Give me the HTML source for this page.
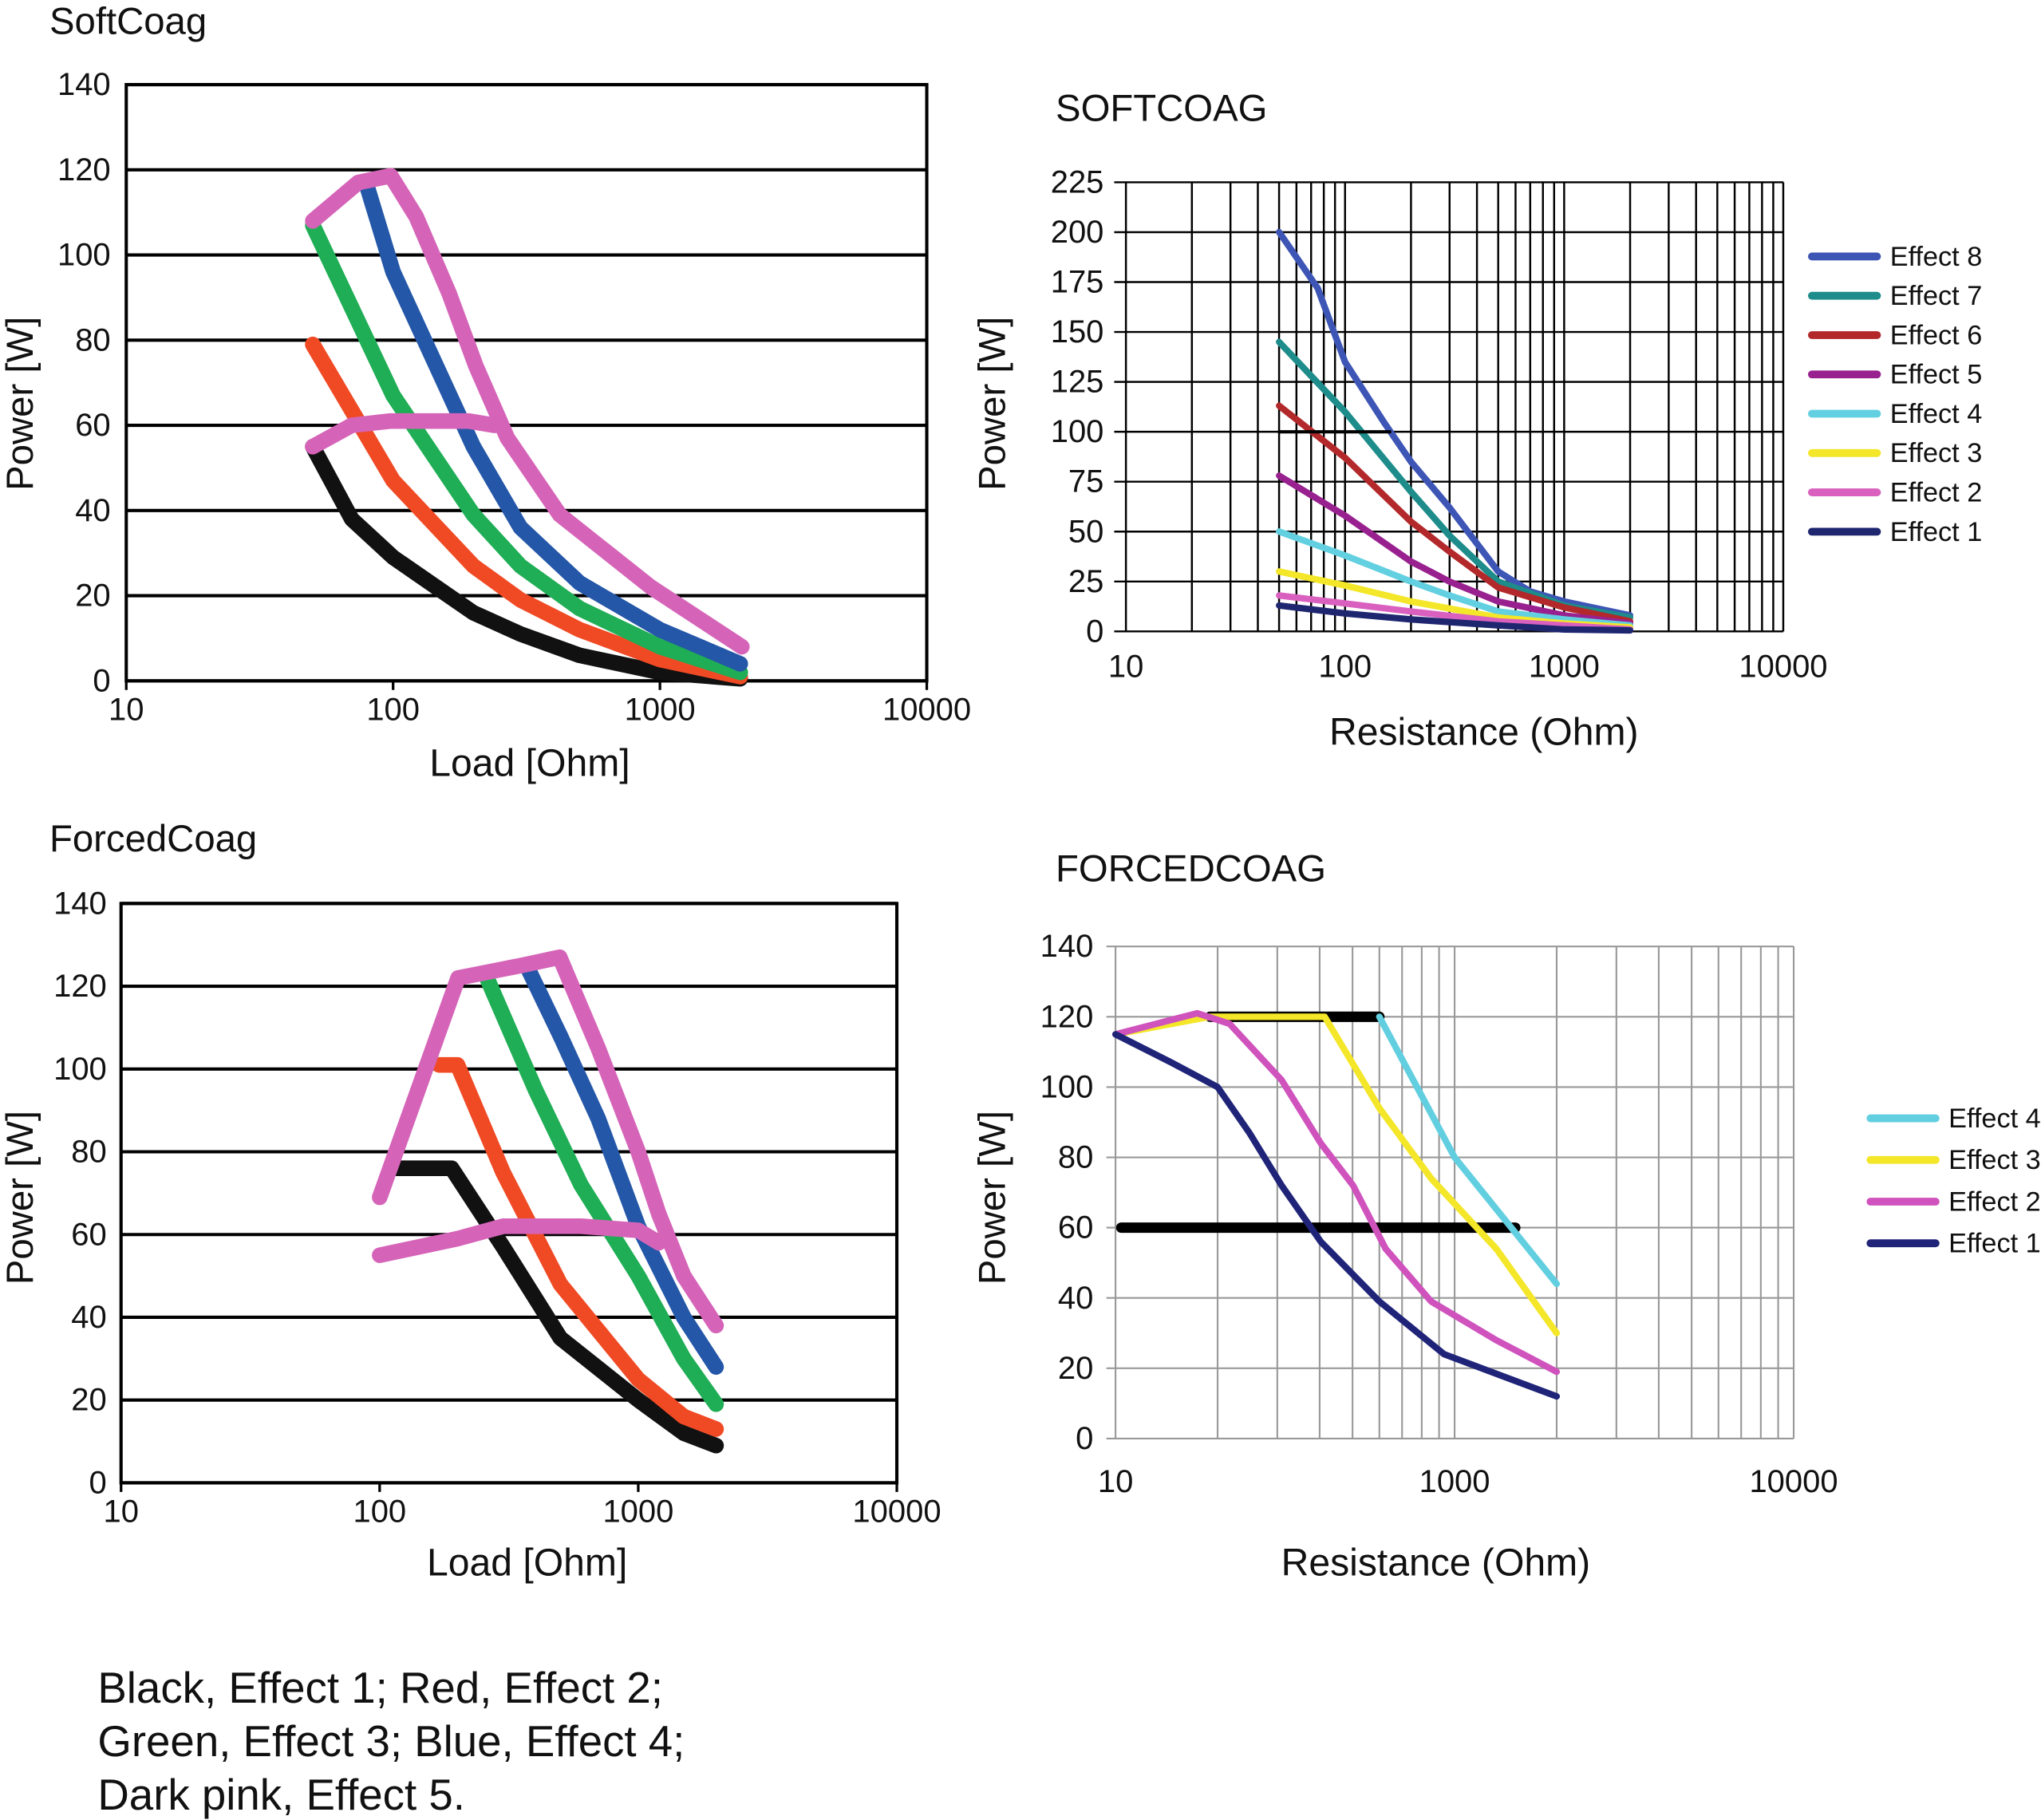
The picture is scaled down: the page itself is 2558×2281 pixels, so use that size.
<!DOCTYPE html>
<html><head><meta charset="utf-8"><style>html,body{margin:0;padding:0;background:#fff}svg{display:block}text{font-family:"Liberation Sans",sans-serif;fill:#111}</style></head>
<body>
<svg id="s" width="2558" height="2281" viewBox="0 0 1568 1398" preserveAspectRatio="none" xmlns="http://www.w3.org/2000/svg">
<rect width="1568" height="1398" fill="#fff"/>
<text x="38" y="26" font-size="29">SoftCoag</text>
<text x="811" y="93" font-size="29">SOFTCOAG</text>
<text x="38" y="654" font-size="29">ForcedCoag</text>
<text x="811" y="677" font-size="29">FORCEDCOAG</text>
<text x="75" y="1308" font-size="33.5">Black, Effect 1; Red, Effect 2;</text>
<text x="75" y="1349" font-size="33.5">Green, Effect 3; Blue, Effect 4;</text>
<text x="75" y="1390" font-size="33.5">Dark pink, Effect 5.</text>
</svg>
<script>
// ---- Chart 1 data (SoftCoag) ----
const c1Black=[[50,55],[70,38],[100,29],[200,16],[300,11],[500,6],[1000,2],[2000,0.5]];
const c1Red=[[50,79],[100,47],[200,27],[300,19],[500,12],[1000,5],[2000,1]];
const c1Green=[[50,107],[100,67],[200,39],[300,27],[500,17],[1000,8],[2000,2]];
const c1Blue=[[80,116],[100,96],[200,55],[300,36],[500,23],[1000,12],[2000,4]];
const c1Pink=[[50,108],[74,117],[98,118.6],[122,109],[162,91],[204,74],[268,57],[421,39],[925,22],[2028,8]];
const c1PinkLow=[[50,55],[70,60],[98,61],[192,61],[240,60]];
// ---- Chart 2 data (SOFTCOAG) ----
const c2E8=[[50,200],[75,172],[100,135],[150,105],[200,85],[300,62],[500,30],[700,20],[1000,15],[2000,8]];
const c2E7=[[50,145],[100,110],[200,70],[300,48],[500,25],[1000,13],[2000,7]];
const c2E6=[[50,113],[100,87],[200,55],[300,40],[500,22],[1000,12],[2000,5]];
const c2E5=[[50,78],[100,58],[200,35],[300,25],[500,15],[1000,8],[2000,4]];
const c2E4=[[50,50],[100,38],[200,25],[300,18],[500,10],[1000,6],[2000,3]];
const c2E3=[[50,30],[100,23],[200,15],[500,7],[1000,4],[2000,2]];
const c2E2=[[50,18],[100,14],[200,10],[500,5],[1000,3],[2000,1]];
const c2E1=[[50,13],[100,9],[200,6],[500,3],[1000,1],[2000,0.5]];
const c2Ref=[[50,100],[160,100]];
// ---- Chart 3 data (ForcedCoag) ----
const c3Black=[[115,76],[190,76],[300,57],[500,35],[1000,20],[1500,12],[2000,9]];
const c3Red=[[170,101],[200,101],[300,75],[500,48],[1000,25],[1500,16],[2000,13]];
const c3Green=[[260,122],[400,95],[600,72],[1000,50],[1500,30],[2000,19]];
const c3Blue=[[370,125],[500,108],[700,88],[1000,62],[1500,40],[2000,28]];
const c3Pink=[[100,69],[201,122],[351,125],[497,127],[700,105],[1000,80],[1200,65],[1500,50],[2000,38]];
const c3PinkLow=[[100,55],[200,59],[300,62],[600,62],[1000,61],[1200,58]];
// ---- Chart 4 data (FORCEDCOAG) ----
const c4E4=[[600,120],[1000,80],[2000,44]];
const c4E3=[[100,115],[190,120],[414,120],[600,94],[853,74],[1327,54],[2000,30]];
const c4E2=[[100,115],[174,121],[217,118],[309,102],[403,84],[502,72],[626,54],[853,39],[1327,28],[2000,19]];
const c4E1=[[100,115],[146,107],[200,100],[248,87],[309,72],[403,56],[600,39],[931,24],[2000,12]];
const c4RefHigh=[[190,120],[600,120]];
const c4RefLow=[[104,60],[1510,60]];
// ---- tick labels ----
const c1XTicks=[10,100,1000,10000];
const c1YTicks=[0,20,40,60,80,100,120,140];
const c2XTicks=[10,100,1000,10000];
const c2YTicks=[0,25,50,75,100,125,150,175,200,225];
const c4XTickVals=[100,1000,10000];
const c4XTickLabels=["10","1000","10000"];
const c4YTicks=[0,20,40,60,80,100,120,140];
const c2Legend=["Effect 8","Effect 7","Effect 6","Effect 5","Effect 4","Effect 3","Effect 2","Effect 1"];
const c4Legend=["Effect 4","Effect 3","Effect 2","Effect 1"];

const S=document.getElementById('s');const NS='http://www.w3.org/2000/svg';
const TF=24.5;
function mk(t,a,p){const e=document.createElementNS(NS,t);for(const k in a)e.setAttribute(k,a[k]);(p||S).appendChild(e);return e;}
function txt(x,y,s,size,anchor,p){const e=mk('text',{x:x,y:y,'font-size':size,'text-anchor':anchor||'start'},p);e.textContent=s;return e;}
function axes(x0,x1,d0,d1,yb,yt,ymax){
  return {x:v=>x0+(Math.log10(v)-d0)/(d1-d0)*(x1-x0),y:v=>yb-v/ymax*(yb-yt)};
}
function line(ax,data,col,w,name){
  const p=mk('polyline',{points:data.map(d=>ax.x(d[0]).toFixed(1)+','+ax.y(d[1]).toFixed(1)).join(' '),fill:'none',stroke:col,'stroke-width':w,'stroke-linejoin':'round','stroke-linecap':'round'});
  
  
}
function ytitle(x,y){const t=txt(x,y,'Power [W]',29,'middle');t.setAttribute('transform','rotate(-90 '+x+' '+y+')');}
function xtitle(x,y,s){const t=txt(x,y,s,29.5,'middle');}

// Chart 1
const A1=axes(97,712,1,4,523,65,140);
c1YTicks.forEach(v=>{mk('line',{x1:97,x2:712,y1:A1.y(v),y2:A1.y(v),stroke:'#000','stroke-width':2.5});txt(85,A1.y(v)+8,String(v),TF,'end');});
mk('rect',{x:97,y:65,width:615,height:458,fill:'none',stroke:'#000','stroke-width':2.5});
c1XTicks.forEach(v=>{mk('line',{x1:A1.x(v),x2:A1.x(v),y1:523,y2:530,stroke:'#000','stroke-width':2});txt(A1.x(v),553,String(v),TF,'middle');});
line(A1,c1Black,'#111',12,'series-effect-1');line(A1,c1Red,'#f04a25',12,'series-effect-2');line(A1,c1Green,'#1fae55',12,'series-effect-3');line(A1,c1Blue,'#2457a8',12,'series-effect-4');line(A1,c1PinkLow,'#d564b8',12,'series-effect-5-low');line(A1,c1Pink,'#d564b8',12,'series-effect-5');
ytitle(25,310);xtitle(407,596,'Load [Ohm]');

// Chart 2
const A2=axes(865,1370,1,4,485,140,225);
for(let d=1;d<4;d++)for(let m=1;m<10;m++){const v=m*Math.pow(10,d);mk('line',{x1:A2.x(v),x2:A2.x(v),y1:140,y2:485,stroke:'#000','stroke-width':1.5});}
mk('line',{x1:1370,x2:1370,y1:140,y2:485,stroke:'#000','stroke-width':1.5});
c2YTicks.forEach(v=>{mk('line',{x1:856,x2:1370,y1:A2.y(v),y2:A2.y(v),stroke:'#000','stroke-width':1.5});txt(848,A2.y(v)+8,String(v),TF,'end');});
c2XTicks.forEach(v=>txt(A2.x(v),520,String(v),TF,'middle'));
const c2Cols=['#3d55b5','#1d8c8a','#b3282a','#98208f','#62d0e0','#f4e628','#d960bf','#1f2670'];
[c2E8,c2E7,c2E6,c2E5,c2E4,c2E3,c2E2,c2E1].forEach((s,i)=>line(A2,s,c2Cols[i],5,'series-effect-'+(8-i)));
line(A2,c2Ref,'#000',2.5,'reference-line');
c2Legend.forEach((l,i)=>{const y=197+i*30.2;mk('line',{x1:1392,x2:1442,y1:y,y2:y,stroke:c2Cols[i],'stroke-width':6,'stroke-linecap':'round'});const t=txt(1452,y+7,l,21);});
ytitle(772,310);xtitle(1140,572,'Resistance (Ohm)');

// Chart 3
const A3=axes(93,689,1,4,1139,694,140);
c1YTicks.forEach(v=>{mk('line',{x1:93,x2:689,y1:A3.y(v),y2:A3.y(v),stroke:'#000','stroke-width':2.5});txt(82,A3.y(v)+8,String(v),TF,'end');});
mk('rect',{x:93,y:694,width:596,height:445,fill:'none',stroke:'#000','stroke-width':2.5});
c1XTicks.forEach(v=>{mk('line',{x1:A3.x(v),x2:A3.x(v),y1:1139,y2:1146,stroke:'#000','stroke-width':2});txt(A3.x(v),1169,String(v),TF,'middle');});
line(A3,c3Black,'#111',12,'series-effect-1');line(A3,c3Red,'#f04a25',12,'series-effect-2');line(A3,c3Green,'#1fae55',12,'series-effect-3');line(A3,c3Blue,'#2457a8',12,'series-effect-4');line(A3,c3PinkLow,'#d564b8',12,'series-effect-5-low');line(A3,c3Pink,'#d564b8',12,'series-effect-5');
ytitle(25,920);xtitle(405,1210,'Load [Ohm]');

// Chart 4
const A4=axes(857,1378,2,4,1105,727,140);
for(let d=2;d<4;d++)for(let m=1;m<10;m++){const v=m*Math.pow(10,d);mk('line',{x1:A4.x(v),x2:A4.x(v),y1:727,y2:1105,stroke:'#999','stroke-width':1.3});}
mk('line',{x1:1378,x2:1378,y1:727,y2:1105,stroke:'#999','stroke-width':1.3});
c4YTicks.forEach(v=>{mk('line',{x1:850,x2:1378,y1:A4.y(v),y2:A4.y(v),stroke:'#999','stroke-width':1.3});txt(840,A4.y(v)+8,String(v),TF,'end');});
c4XTickVals.forEach((v,i)=>txt(A4.x(v),1146,c4XTickLabels[i],TF,'middle'));
line(A4,c4RefHigh,'#000',8,'reference-line-120');line(A4,c4RefLow,'#000',8,'reference-line-60');
const c4Cols=['#62cfe0','#f4e628','#cf52bd','#1f2478'];
[c4E4,c4E3,c4E2,c4E1].forEach((s,i)=>line(A4,s,c4Cols[i],5,'series-effect-'+(4-i)));
c4Legend.forEach((l,i)=>{const y=859+i*32;mk('line',{x1:1437,x2:1487,y1:y,y2:y,stroke:c4Cols[i],'stroke-width':6,'stroke-linecap':'round'});const t=txt(1497,y+7,l,21);});
ytitle(772,920);xtitle(1103,1210,'Resistance (Ohm)');
</script>
</body></html>
